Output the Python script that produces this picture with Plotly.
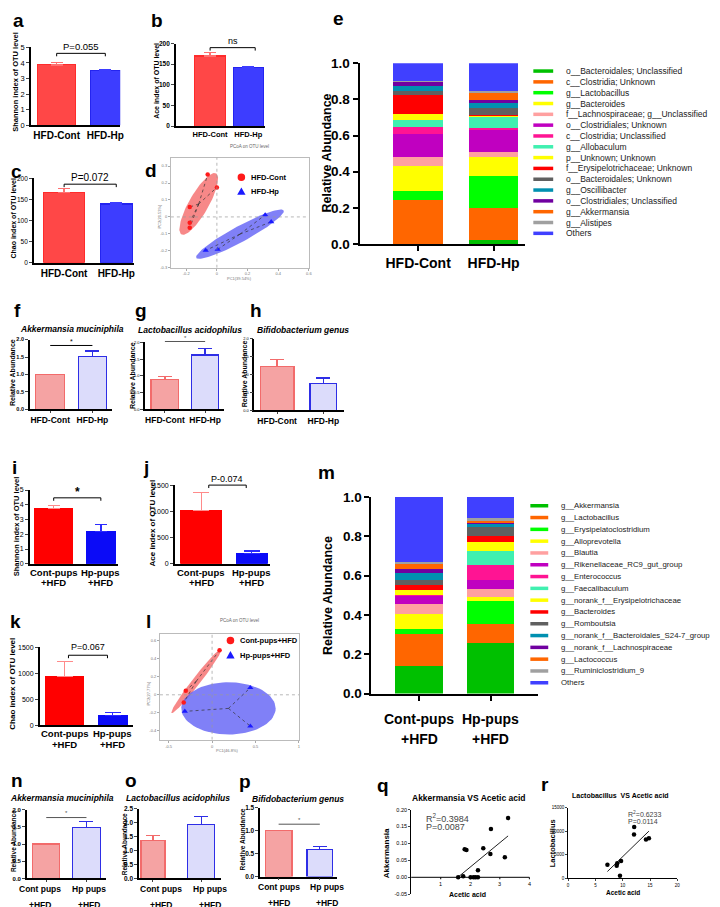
import numpy as np
import plotly.graph_objects as go

W, H = 720, 907
FONT = "Liberation Sans"

# ======================= DATA =======================
groups_adult = ["HFD-Cont", "HFD-Hp"]
groups_pups = ["Cont-pups<br>+HFD", "Hp-pups<br>+HFD"]
groups_pups2 = ["Cont pups<br>+HFD", "Hp pups<br>+HFD"]

shannon_adult = [3.88, 3.51]
shannon_adult_sem = [0.15, 0.05]
ace_adult = [170, 142]
ace_adult_sem = [9, 3]
chao_adult = [167, 139]
chao_adult_sem = [9, 3]

akk_adult = [1.0, 1.51]
akk_adult_sem = [0.0, 0.16]
lac_adult = [0.89, 1.63]
lac_adult_sem = [0.09, 0.19]
bif_adult = [1.22, 0.74]
bif_adult_sem = [0.20, 0.16]

shannon_pups = [3.75, 2.20]
shannon_pups_sem = [0.22, 0.44]
ace_pups = [1012, 200]
ace_pups_sem = [350, 44]
chao_pups = [936, 184]
chao_pups_sem = [292, 57]

akk_pups = [1.0, 1.48]
akk_pups_sem = [0.0, 0.17]
lac_pups = [1.37, 1.93]
lac_pups_sem = [0.18, 0.28]
bif_pups = [1.0, 0.59]
bif_pups_sem = [0.0, 0.07]

pcoa1_cont_x = [-0.06, 0.0, -0.177, -0.177, -0.177]
pcoa1_cont_y = [0.25, 0.174, 0.058, -0.035, -0.064]
pcoa1_hp_x = [-0.073, 0.005, 0.315, 0.354]
pcoa1_hp_y = [-0.198, -0.192, 0.012, -0.029]
pcoa2_cont_x = [0.086, -0.303, -0.326]
pcoa2_cont_y = [0.494, 0.046, -0.085]
pcoa2_hp_x = [-0.314, 0.44, 0.44]
pcoa2_hp_y = [-0.184, 0.079, -0.348]

taxa_e = ["o__Bacteroidales; Unclassified", "c__Clostridia; Unknown", "g__Lactobacillus",
          "g__Bacteroides", "f__Lachnospiraceae; g__Unclassified", "o__Clostridiales; Unknown",
          "c__Clostridia; Unclassified", "g__Allobaculum", "p__Unknown; Unknown",
          "f__Erysipelotrichaceae; Unknown", "o__Bacteroidales; Unknown", "g__Oscillibacter",
          "o__Clostridiales; Unclassified", "g__Akkermansia", "g__Alistipes", "Others"]
e_cont = [0.0, 0.245, 0.051, 0.136, 0.051, 0.127, 0.040, 0.036, 0.033, 0.104,
          0.024, 0.025, 0.027, 0.0, 0.001, 0.100]
e_hp = [0.022, 0.178, 0.175, 0.109, 0.027, 0.118, 0.013, 0.060, 0.007, 0.002,
        0.040, 0.031, 0.015, 0.040, 0.008, 0.155]

taxa_m = ["g__Akkermansia", "g__Lactobacillus", "g__Erysipelatoclostridium", "g__Alloprevotella",
          "g__Blautia", "g__Rikenellaceae_RC9_gut_group", "g__Enterococcus", "g__Faecalibaculum",
          "g__norank_f__Erysipelotrichaceae", "g__Bacteroides", "g__Romboutsia",
          "g__norank_f__Bacteroidales_S24-7_group", "g__norank_f__Lachnospiraceae",
          "g__Lactococcus", "g__Ruminiclostridium_9", "Others"]
m_cont = [0.142, 0.162, 0.025, 0.075, 0.053, 0.042, 0.001, 0.0, 0.025, 0.025,
          0.030, 0.035, 0.020, 0.022, 0.013, 0.330]
m_hp = [0.255, 0.098, 0.117, 0.022, 0.038, 0.045, 0.078, 0.072, 0.045, 0.033,
        0.042, 0.018, 0.008, 0.008, 0.012, 0.109]

stack_colors = ["#00C000", "#FF6600", "#00FF00", "#FFFF00", "#FFA0A0", "#C000C0", "#FF1493",
                "#40F0B0", "#FFFF00", "#FF0000", "#606060", "#0090B0", "#7000A0", "#FF6600",
                "#A0A0A0", "#4040FF"]

q_acetic = [1.59, 1.76, 1.81, 1.87, 2.01, 2.11, 2.18, 2.26, 2.26, 2.44, 2.68, 2.70, 3.17, 3.28]
q_akk = [0.0, 0.003, 0.083, 0.081, 0.0, 0.0, 0.0, 0.0, 0.021, 0.086, 0.069, 0.143, 0.059, 0.175]
r_acetic = [7.2, 8.9, 9.0, 9.7, 9.5, 12.07, 12.1, 14.26, 14.8]
r_lac = [2900, 2700, 3200, 3700, 600, 9300, 10900, 8270, 8540]

# ======================= HELPERS =======================
fig = go.Figure()
layout = {}
shapes = []
annots = []
counter = [0]


def X(p):
    return float(p) / W


def Y(p):
    return 1 - float(p) / H


def new_axes():
    counter[0] += 1
    k = counter[0]
    s = "" if k == 1 else str(k)
    return "x" + s, "y" + s, "xaxis" + s, "yaxis" + s


def text(x, y, t, size, color="black", bold=False, italic=False, xanchor="center", angle=0):
    if italic:
        t = "<i>" + t + "</i>"
    if bold:
        t = "<b>" + t + "</b>"
    annots.append(dict(x=X(x), y=Y(y), xref="paper", yref="paper", text=t, showarrow=False,
                       font=dict(family=FONT, size=size, color=color),
                       xanchor=xanchor, yanchor="middle", textangle=angle))


STYLES = {
    "A": [dict(fill="#FF4747", line="#FF2B2B", lw=1.2, err="#FF7070"),
          dict(fill="#3D3DFF", line="#2424F0", lw=1.2, err="#3D3DFF")],
    "B": [dict(fill="#FF0000", line="#FF0000", lw=1, err="#FF8A8A"),
          dict(fill="#0B0BF7", line="#0B0BF7", lw=1, err="#2B2BFF")],
    "H": [dict(fill="#F5A3A3", line="#F26B6B", lw=1.2, err="#F26B6B"),
          dict(fill="#DCDCFB", line="#2E2EE6", lw=1.4, err="#2E2EE6")],
}


def bar_panel(cats, vals, sems, box, centers, bws, ymax, dtick, style, fmt="",
              tick_size=8, tick_bold=False, lab_size=10, xtick_len=0, ylabel=None,
              bracket=None, cap=5, axis_w=1.5, lines=None, label_x=None):
    axL, axR, ytop, ybot = box
    c1, c2 = centers
    xa, ya, xk, yk = new_axes()
    sp = c2 - c1
    xr = [-(c1 - axL) / sp, 1 + (axR - c2) / sp]
    st = STYLES[style]
    for i in range(2):
        s = st[i]
        err = dict(type="data", symmetric=False, array=[sems[i]], arrayminus=[0],
                   color=s["err"], thickness=1.3, width=cap, visible=bool(sems[i] > 0))
        fig.add_trace(go.Bar(
            x=[i], y=[vals[i]], width=bws[i] / sp, name=cats[i].replace("<br>", " "),
            marker=dict(color=s["fill"], line=dict(color=s["line"], width=s["lw"])),
            error_y=err, xaxis=xa, yaxis=ya, showlegend=False))
    labs = ["<b>" + c + "</b>" for c in cats]
    layout[xk] = dict(domain=[X(axL), X(axR)], range=xr, anchor=ya,
                      tickmode="array", tickvals=[0, 1], ticktext=labs, tickangle=0,
                      showticklabels=lines is None,
                      ticks="outside" if xtick_len else "", ticklen=max(xtick_len, 1),
                      tickfont=dict(family=FONT, size=lab_size, color="black"),
                      showline=True, linecolor="black", linewidth=axis_w,
                      showgrid=False, zeroline=False)
    if lines is not None:
        # two-line category labels written under each bar
        lab_xs = label_x if label_x is not None else (c1, c2)
        for cx, c in zip(lab_xs, cats):
            for ly, part in zip(lines, c.split("<br>")):
                text(cx, ly, part, lab_size, bold=True)
    n = int(round(ymax / dtick))
    ytv = [round(j * dtick, 6) for j in range(n + 1)]
    ytt = [(format(v, fmt) if fmt else f"{v:g}") for v in ytv]
    if tick_bold:
        ytt = ["<b>" + t + "</b>" for t in ytt]
    layout[yk] = dict(domain=[Y(ybot), Y(ytop)], range=[0, ymax], anchor=xa,
                      tickmode="array", tickvals=ytv, ticktext=ytt, tickangle=0,
                      ticks="outside", ticklen=3,
                      tickfont=dict(family=FONT, size=tick_size, color="black"),
                      showline=True, linecolor="black", linewidth=axis_w,
                      showgrid=False, zeroline=False)

    def P(xv, yv):
        return (axL + (xv - xr[0]) / (xr[1] - xr[0]) * (axR - axL),
                ybot - yv / ymax * (ybot - ytop))

    if ylabel:
        t, lx, ly, ls = ylabel
        text(lx, ly, t, ls, bold=True, angle=-90)
    if bracket:
        b = bracket
        x0, yy = P(b["x0"], b["y"])
        x1, _ = P(b["x1"], b["y"])
        col = b.get("color", "black")
        shapes.append(dict(type="line", xref="paper", yref="paper", x0=X(x0), x1=X(x1),
                           y0=Y(yy), y1=Y(yy), line=dict(color=col, width=1)))
        if b.get("ends", True):
            for xx in (x0, x1):
                shapes.append(dict(type="line", xref="paper", yref="paper", x0=X(xx), x1=X(xx),
                                   y0=Y(yy), y1=Y(yy + 3), line=dict(color=col, width=1)))
        tx, ty = P((b["x0"] + b["x1"]) / 2, b["ty"])
        text(tx, ty, b["text"], b.get("size", 9), color=col, bold=b.get("bold", False))


def stack_panel(cats, taxa, colors, v1, v2, box, centers, bw, ylab_xy, legend, lines=None):
    axL, axR, ytop, ybot = box
    c1, c2 = centers
    xa, ya, xk, yk = new_axes()
    sp = c2 - c1
    xr = [-(c1 - axL) / sp, 1 + (axR - c2) / sp]
    for i, name in enumerate(taxa):
        fig.add_trace(go.Bar(x=[0, 1], y=[v1[i], v2[i]], width=bw / sp, name=name,
                             marker=dict(color=colors[i], line=dict(width=0)),
                             xaxis=xa, yaxis=ya, showlegend=False))
    labs = ["<b>" + c + "</b>" for c in cats]
    layout[xk] = dict(domain=[X(axL), X(axR)], range=xr, anchor=ya,
                      tickmode="array", tickvals=[0, 1], ticktext=labs, tickangle=0,
                      showticklabels=lines is None,
                      ticks="outside", ticklen=5, tickwidth=2, tickcolor="black",
                      tickfont=dict(family=FONT, size=14, color="black"),
                      showline=True, linecolor="black", linewidth=2,
                      showgrid=False, zeroline=False)
    if lines is not None:
        for cx, c in zip((c1, c2), cats):
            for ly, part in zip(lines, c.split("<br>")):
                text(cx, ly, part, 14, bold=True)
    ytv = [0, 0.2, 0.4, 0.6, 0.8, 1.0]
    layout[yk] = dict(domain=[Y(ybot), Y(ytop)], range=[0, 1], anchor=xa,
                      tickmode="array", tickvals=ytv, tickangle=0,
                      ticktext=["<b>" + format(v, ".1f") + "</b>" for v in ytv],
                      ticks="outside", ticklen=5, tickwidth=2, tickcolor="black",
                      tickfont=dict(family=FONT, size=13.5, color="black"),
                      showline=True, linecolor="black", linewidth=2,
                      showgrid=False, zeroline=False)
    text(ylab_xy[0], ylab_xy[1], "Relative Abundance", 12.5, bold=True, angle=-90)
    lx, ly0, dy, sw, gap, lfs = legend
    for i, name in enumerate(taxa):
        yy = ly0 + i * dy
        shapes.append(dict(type="line", xref="paper", yref="paper", x0=X(lx), x1=X(lx + sw),
                           y0=Y(yy), y1=Y(yy), line=dict(color=colors[i], width=3.5)))
        text(lx + sw + gap, yy, name, lfs, color="#222", xanchor="left")


def pcoa_panel(box, xr, yr, xtv, ytv, groups, title_xy, xlabel, xlabel_xy, ylabel,
               ylabel_xy, legend_xy, legend_dy):
    x0, x1, y0, y1 = box
    xa, ya, xk, yk = new_axes()
    t = np.linspace(0, 2 * np.pi, 90)
    for g in groups:
        cx, cy = float(np.mean(g["x"])), float(np.mean(g["y"]))
        a, b = g["major"], g["minor"]
        ex = (cx + a[0] * np.cos(t) + b[0] * np.sin(t)).tolist()
        ey = (cy + a[1] * np.cos(t) + b[1] * np.sin(t)).tolist()
        fig.add_trace(go.Scatter(x=ex, y=ey, mode="lines", fill="toself", fillcolor=g["fill"],
                                 line=dict(width=0), xaxis=xa, yaxis=ya, showlegend=False,
                                 hoverinfo="skip"))
    for g in groups:
        cx, cy = float(np.mean(g["x"])), float(np.mean(g["y"]))
        sx, sy = [], []
        for px_, py_ in zip(g["x"], g["y"]):
            sx += [cx, px_, None]
            sy += [cy, py_, None]
        fig.add_trace(go.Scatter(x=sx, y=sy, mode="lines",
                                 line=dict(color="#333", width=0.7, dash="dot"),
                                 xaxis=xa, yaxis=ya, showlegend=False, hoverinfo="skip"))
        fig.add_trace(go.Scatter(x=g["x"], y=g["y"], mode="markers", name=g["name"],
                                 marker=dict(color=g["color"], symbol=g["symbol"], size=g["size"]),
                                 xaxis=xa, yaxis=ya, showlegend=False))
    common = dict(showline=True, mirror=True, linecolor="#BBBBBB", linewidth=0.8,
                  ticks="outside", ticklen=2, tickcolor="#AAAAAA", tickangle=0,
                  tickfont=dict(family=FONT, size=4, color="#777"), tickmode="array",
                  showgrid=False, zeroline=False)
    layout[xk] = dict(domain=[X(x0), X(x1)], range=xr, anchor=ya, tickvals=xtv,
                      ticktext=[f"{v:g}" for v in xtv], **common)
    layout[yk] = dict(domain=[Y(y1), Y(y0)], range=yr, anchor=xa, tickvals=ytv,
                      ticktext=[f"{v:g}" for v in ytv], **common)
    shapes.append(dict(type="line", xref=xa, yref=ya, x0=0, x1=0, y0=yr[0], y1=yr[1],
                       line=dict(color="#999", width=0.7, dash="dot")))
    shapes.append(dict(type="line", xref=xa, yref=ya, x0=xr[0], x1=xr[1], y0=0, y1=0,
                       line=dict(color="#999", width=0.7, dash="dot")))
    text(title_xy[0], title_xy[1], "PCoA on OTU level", 4.5, color="#666")
    text(xlabel_xy[0], xlabel_xy[1], xlabel, 4, color="#777")
    text(ylabel_xy[0], ylabel_xy[1], ylabel, 4, color="#777", angle=-90)
    lx, ly = legend_xy
    for i, g in enumerate(groups):
        yy = ly + i * legend_dy
        if g["symbol"] == "circle":
            r = 3.8
            shapes.append(dict(type="circle", xref="paper", yref="paper",
                               x0=X(lx - r), x1=X(lx + r), y0=Y(yy + r), y1=Y(yy - r),
                               fillcolor=g["color"], line=dict(width=0)))
        else:
            r = 4.2
            path = (f"M{X(lx - r)},{Y(yy + r * 0.8)} L{X(lx + r)},{Y(yy + r * 0.8)} "
                    f"L{X(lx)},{Y(yy - r)} Z")
            shapes.append(dict(type="path", xref="paper", yref="paper", path=path,
                               fillcolor=g["color"], line=dict(width=0)))
        text(lx + 8, yy, g["name"], 7.5, bold=True, xanchor="left")


def scatter_panel(xs, ys, box, xr, yr, xtickvals, ytv, yfmt, tick_size, x_at_zero,
                  title, title_xy, title_size, xlabel, xlabel_xy, ylabel, ylabel_xy,
                  lab_size, stats, stats_xy, stats_size, stats_dy):
    axL, axR, ytop, ybot = box
    xa, ya, xk, yk = new_axes()
    coef = np.polyfit(xs, ys, 1)
    fx = [min(xs), max(xs)]
    fy = [float(np.polyval(coef, v)) for v in fx]
    fig.add_trace(go.Scatter(x=fx, y=fy, mode="lines", line=dict(color="#222", width=1),
                             xaxis=xa, yaxis=ya, showlegend=False, hoverinfo="skip"))
    fig.add_trace(go.Scatter(x=xs, y=ys, mode="markers", marker=dict(color="black", size=4.5),
                             xaxis=xa, yaxis=ya, showlegend=False))
    xax = dict(domain=[X(axL), X(axR)], range=xr, anchor=ya, tickangle=0,
               showgrid=False, zeroline=False)
    if x_at_zero:
        xax.update(showline=False, showticklabels=False, ticks="")
        y0px = ybot - (0 - yr[0]) / (yr[1] - yr[0]) * (ybot - ytop)
        for v in xtickvals:
            xp = axL + (v - xr[0]) / (xr[1] - xr[0]) * (axR - axL)
            shapes.append(dict(type="line", xref="paper", yref="paper", x0=X(xp), x1=X(xp),
                               y0=Y(y0px), y1=Y(y0px + 2), line=dict(color="black", width=1)))
            text(xp, y0px + 7, f"{v:g}", tick_size)
        shapes.append(dict(type="line", xref="paper", yref="paper", x0=X(axL), x1=X(axR),
                           y0=Y(y0px), y1=Y(y0px), line=dict(color="black", width=1)))
    else:
        xax.update(tickmode="array", tickvals=xtickvals, ticktext=[f"{v:g}" for v in xtickvals],
                   ticks="outside", ticklen=2,
                   tickfont=dict(family=FONT, size=tick_size, color="black"),
                   showline=True, linecolor="black", linewidth=1)
    layout[xk] = xax
    layout[yk] = dict(domain=[Y(ybot), Y(ytop)], range=yr, anchor=xa, tickmode="array",
                      tickvals=ytv, ticktext=[format(v, yfmt) if yfmt else f"{v:g}" for v in ytv],
                      ticks="outside", ticklen=2, tickangle=0,
                      tickfont=dict(family=FONT, size=tick_size, color="black"),
                      showline=True, linecolor="black", linewidth=1,
                      showgrid=False, zeroline=False)
    text(title_xy[0], title_xy[1], title, title_size, bold=True)
    text(xlabel_xy[0], xlabel_xy[1], xlabel, lab_size, bold=True)
    text(ylabel_xy[0], ylabel_xy[1], ylabel, lab_size + 1, bold=True, angle=-90)
    for i, s in enumerate(stats):
        text(stats_xy[0], stats_xy[1] + i * stats_dy, s, stats_size, color="#444",
             xanchor="left")


# ======================= PANELS =======================
bar_panel(groups_adult, shannon_adult, shannon_adult_sem, (22, 112, 33, 112), (48, 97), (38, 30),
          5, 1, "A", tick_size=7.5, lab_size=10, cap=6,
          ylabel=("Shannon index of OTU level", 7, 68, 7.5),
          bracket=dict(x0=0, x1=1, y=4.62, ty=5.08, text="P=0.055", size=9.5))
bar_panel(groups_adult, ace_adult, ace_adult_sem, (168, 258, 29, 113), (202.5, 241), (31, 30),
          200, 50, "A", tick_size=6.5, tick_bold=True, lab_size=7.5, cap=6,
          ylabel=("Ace index of OTU level", 149, 67, 7),
          bracket=dict(x0=0, x1=1.18, y=190, ty=206, text="ns", size=9))
bar_panel(groups_adult, chao_adult, chao_adult_sem, (25, 126, 166, 252), (55.5, 108), (41, 32),
          200, 50, "A", tick_size=6.5, lab_size=10, cap=6,
          ylabel=("Chao index of OTU level", 5, 206, 7),
          bracket=dict(x0=0, x1=1, y=186, ty=202, text="P=0.072", size=10))
pcoa_panel((163, 302, 145, 257), [-0.3, 0.6], [-0.3, 0.35], [-0.2, 0, 0.2, 0.4, 0.6],
           [-0.3, -0.2, -0.1, 0, 0.1, 0.2, 0.3],
           [dict(x=pcoa1_cont_x, y=pcoa1_cont_y, color="#FF1A1A", symbol="circle", size=4.5,
                 fill="rgba(244,96,96,0.75)", major=(0.113, 0.180), minor=(-0.056, 0.028),
                 name="HFD-Cont"),
            dict(x=pcoa1_hp_x, y=pcoa1_hp_y, color="#1A1AFF", symbol="triangle-up", size=5.5,
                 fill="rgba(96,96,245,0.8)", major=(0.285, 0.14), minor=(-0.025, 0.041),
                 name="HFD-Hp")],
           (242, 134), "PC1(39.54%)", (232, 268), "PC2(20.53%)", (152, 204), (234, 165), 14.5)
stack_panel(groups_adult, taxa_e, stack_colors, e_cont, e_hp, (353, 520, 49, 233), (412, 488), 50,
            (320, 140), (528, 57, 11, 20, 11, 8.5))
bar_panel(groups_adult, akk_adult, akk_adult_sem, (21, 104, 330, 401), (41.5, 84), (29, 28),
          2, 0.5, "H", fmt=".1f", tick_size=5.5, tick_bold=True, lab_size=8.5, xtick_len=2, cap=7,
          ylabel=("Relative Abundance", 4, 363, 7),
          bracket=dict(x0=0, x1=1, y=1.83, ty=1.95, text="*", ends=False, size=7))
text(63, 319, "Akkermansia muciniphila", 8.5, bold=True, italic=True)
bar_panel(groups_adult, lac_adult, lac_adult_sem, (137, 216, 333, 401), (157, 197.5), (28, 27),
          2, 0.5, "H", fmt=".1f", tick_size=4, lab_size=8.5, xtick_len=2, cap=7,
          ylabel=("Relative Abundance", 125, 367, 7),
          bracket=dict(x0=0, x1=1, y=2.03, ty=2.12, text="*", ends=False, size=6, color="#555"))
text(182, 320, "Lactobacillus acidophilus", 8.5, bold=True, italic=True)
bar_panel(groups_adult, bif_adult, bif_adult_sem, (247, 337, 329, 402), (270, 316.5), (34, 27),
          2, 0.5, "H", fmt=".1f", tick_size=4, lab_size=8.5, xtick_len=2, cap=7,
          ylabel=("Relative Abundance", 238, 365, 7))
text(296, 320, "Bifidobacterium genus", 8.5, bold=True, italic=True)
bar_panel(groups_pups, shannon_pups, shannon_pups_sem, (21, 110, 483, 558), (45, 92.5), (38, 29),
          5, 1, "B", tick_size=7, lab_size=9.5, cap=6, lines=(567, 577.5),
          ylabel=("Shannon index of OTU level", 7, 520, 7.5),
          bracket=dict(x0=0, x1=1, y=4.47, ty=4.85, text="*", size=12, bold=True))
bar_panel(groups_pups, ace_pups, ace_pups_sem, (167, 263, 478, 558), (193.5, 244.5), (41, 31),
          1500, 500, "B", tick_size=7, lab_size=9.5, cap=8, lines=(567, 577.5),
          ylabel=("Ace index of OTU level", 144, 517, 8),
          bracket=dict(x0=0.15, x1=0.89, y=1500, ty=1612, text="P-0.074", size=9))
bar_panel(groups_pups, chao_pups, chao_pups_sem, (31, 125, 643, 722), (56, 104.5), (38, 29),
          1500, 500, "B", tick_size=7, lab_size=9.5, cap=8, lines=(731, 741.5),
          ylabel=("Chao index of OTU level", 4, 680, 8),
          bracket=dict(x0=0.08, x1=0.89, y=1348, ty=1500, text="P=0.067", size=9))
pcoa_panel((152, 292, 629, 737), [-0.6, 1.0], [-0.5, 0.68], [-0.5, 0, 0.5, 1],
           [-0.4, -0.2, 0, 0.2, 0.4, 0.6],
           [dict(x=pcoa2_cont_x, y=pcoa2_cont_y, color="#FF1A1A", symbol="circle", size=4.5,
                 fill="rgba(244,96,96,0.75)", major=(0.286, 0.355), minor=(-0.037, 0.026),
                 name="Cont-pups+HFD"),
            dict(x=pcoa2_hp_x, y=pcoa2_hp_y, color="#1A1AFF", symbol="triangle-up", size=5.5,
                 fill="rgba(96,96,245,0.8)", major=(0.543, 0.0), minor=(0.0, 0.29),
                 name="Hp-pups+HFD")],
           (232, 616), "PC1(46.8%)", (220, 748), "PC2(27.77%)", (141, 690), (223, 636), 15)
stack_panel(groups_pups, taxa_m, stack_colors, m_cont, m_hp, (365, 533, 490, 690), (413, 485), 48,
            (321, 590), (525, 499, 12, 18, 11, 7.8), lines=(716, 736))
bar_panel(groups_pups2, akk_pups, akk_pups_sem, (18, 98, 808, 878), (37.5, 78), (27, 28),
          2, 0.5, "H", fmt=".1f", tick_size=6, tick_bold=True, lab_size=8.5, xtick_len=2, cap=7,
          lines=(889, 905), label_x=(31, 80.5),
          ylabel=("Relative Abundance", 4, 840, 6.5),
          bracket=dict(x0=0, x1=1, y=1.77, ty=1.89, text="*", ends=False, size=6, color="#555"))
text(53, 796, "Akkermansia muciniphila", 8.5, bold=True, italic=True)
bar_panel(groups_pups2, lac_pups, lac_pups_sem, (131, 213, 807, 878), (145, 193.5), (24, 27),
          2.5, 0.5, "H", fmt=".1f", tick_size=6.5, tick_bold=True, lab_size=8.5, xtick_len=2, cap=7,
          lines=(889, 905), label_x=(153, 202),
          ylabel=("Relative Abundance", 116, 843, 6.5))
text(170, 796, "Lactobacillus acidophilus", 8.5, bold=True, italic=True)
bar_panel(groups_pups2, bif_pups, bif_pups_sem, (253, 330, 806, 876), (271.5, 313), (27, 26),
          1.5, 0.5, "H", fmt=".1f", tick_size=6.5, tick_bold=True, lab_size=8.5, xtick_len=2, cap=7,
          lines=(887, 903), label_x=(271.5, 320),
          ylabel=("Relative Abundance", 235, 838, 6.5),
          bracket=dict(x0=0, x1=1, y=1.14, ty=1.24, text="*", ends=False, size=6, color="#555"))
text(291, 797, "Bifidobacterium genus", 8.5, bold=True, italic=True)
scatter_panel(q_acetic, q_akk, (405, 524, 808, 894), [0, 4], [-0.05, 0.2], [1, 2, 3, 4],
              [-0.05, 0.0, 0.05, 0.10, 0.15, 0.20], ".2f", 5.5, True,
              title="Akkermansia VS Acetic acid", title_xy=(463, 796), title_size=8.5,
              xlabel="Acetic acid", xlabel_xy=(462, 894), ylabel="Akkermansia",
              ylabel_xy=(381, 852), lab_size=7,
              stats=["R<sup>2</sup>=0.3984", "P=0.0087"], stats_xy=(418, 816),
              stats_size=9, stats_dy=9.5)
scatter_panel(r_acetic, r_lac, (563, 673, 806, 878), [0, 20], [0, 15000], [0, 5, 10, 15, 20],
              [0, 5000, 10000, 15000], "", 4.5, False,
              title="Lactobacillus  VS Acetic acid", title_xy=(616, 794), title_size=7,
              xlabel="Acetic acid", xlabel_xy=(618, 892), ylabel="Lactobacillus",
              ylabel_xy=(547, 842), lab_size=6.5,
              stats=["R<sup>2</sup>=0.6233", "P=0.0114"], stats_xy=(621, 812),
              stats_size=7, stats_dy=8)

letters = [("a", 10, 8), ("b", 149, 8), ("c", 8, 161), ("d", 143, 160), ("e", 332, 6),
           ("f", 9, 302), ("g", 133, 302), ("h", 249, 302), ("i", 6, 462), ("j", 138, 462),
           ("k", 7, 619), ("l", 140, 619), ("m", 320, 467), ("n", 8, 780), ("o", 123, 780),
           ("p", 238, 781), ("q", 377, 785), ("r", 540, 784)]
for L, lx, ly in letters:
    text(lx, ly - 2, L, 19, bold=True)

fig.update_layout(
    width=W, height=H, margin=dict(l=0, r=0, t=0, b=0),
    paper_bgcolor="white", plot_bgcolor="white", barmode="stack",
    showlegend=False, shapes=shapes, annotations=annots, **layout)

fig.write_html("out.html")
